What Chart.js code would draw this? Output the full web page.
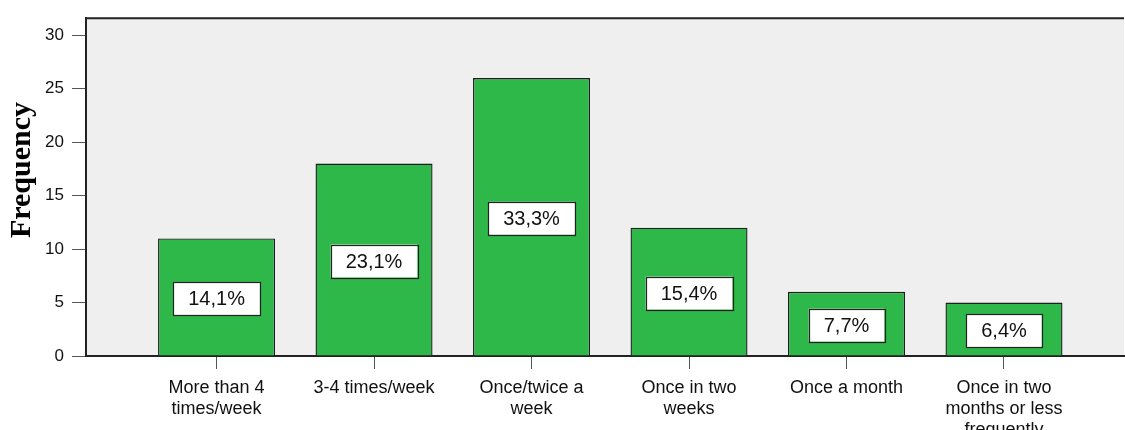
<!DOCTYPE html>
<html>
<head>
<meta charset="utf-8">
<script src="https://cdn.jsdelivr.net/npm/chart.js@4.4.1/dist/chart.umd.min.js"></script>
<style>
  html, body { margin: 0; padding: 0; background: #fff; }
  #wrap { width: 1125px; height: 430px; position: relative; }
</style>
</head>
<body>
<div id="wrap"><canvas id="chart"></canvas></div>
<script>
// Chart data
const categories = [
  ["More than 4", "times/week"],
  ["3-4 times/week"],
  ["Once/twice a", "week"],
  ["Once in two", "weeks"],
  ["Once a month"],
  ["Once in two", "months or less", "frequently"]
];
const frequencies = [11, 18, 26, 12, 6, 5];
const percentLabels = ["14,1%", "23,1%", "33,3%", "15,4%", "7,7%", "6,4%"];
const yTicks = [0, 5, 10, 15, 20, 25, 30];
const yTitle = "Frequency";

// Gray plot background and top frame line
const plotFrame = {
  id: "plotFrame",
  beforeDraw(chart) {
    const { ctx, chartArea } = chart;
    ctx.save();
    ctx.fillStyle = "#efefef";
    ctx.fillRect(chartArea.left, chartArea.top, chartArea.right - chartArea.left, chartArea.bottom - chartArea.top);
    ctx.restore();
  },
  afterDraw(chart) {
    const { ctx, chartArea } = chart;
    ctx.save();
    ctx.strokeStyle = "#222";
    ctx.lineWidth = 2;
    ctx.beginPath();
    ctx.moveTo(chartArea.left - 1, chartArea.top);
    ctx.lineTo(chartArea.right, chartArea.top);
    ctx.stroke();

    // rotated axis title
    ctx.fillStyle = "#000";
    ctx.font = "bold 30px 'Liberation Serif', 'Times New Roman', serif";
    ctx.textAlign = "center";
    ctx.textBaseline = "middle";
    ctx.translate(22, 170);
    ctx.rotate(-Math.PI / 2);
    ctx.fillText(yTitle, 0, 0);
    ctx.restore();
  }
};

// Percentage boxes in the middle of each bar
const boxLabels = {
  id: "boxLabels",
  afterDatasetsDraw(chart) {
    const { ctx } = chart;
    const bars = chart.getDatasetMeta(0).data;
    ctx.save();
    ctx.font = "20px 'Liberation Sans', Arial, sans-serif";
    ctx.textAlign = "center";
    ctx.textBaseline = "middle";
    bars.forEach((bar, i) => {
      const text = percentLabels[i];
      const w = ctx.measureText(text).width + 30;
      const h = 33;
      const cx = bar.x;
      const cy = (bar.y + bar.base) / 2 + 1.5;
      ctx.fillStyle = "#fff";
      ctx.fillRect(cx - w / 2, cy - h / 2, w, h);
      ctx.strokeStyle = "#222";
      ctx.lineWidth = 1.2;
      ctx.strokeRect(Math.round(cx - w / 2) + 0.5, Math.round(cy - h / 2) + 0.5, Math.round(w), h);
      ctx.fillStyle = "#111";
      ctx.fillText(text, cx, cy + 1);
    });
    ctx.restore();
  }
};

const ctx = document.getElementById("chart").getContext("2d");
new Chart(ctx, {
  type: "bar",
  data: {
    datasets: [{
      data: frequencies.map((v, i) => ({ x: i, y: v })),
      backgroundColor: "#2eb84a",
      borderColor: "#1e1e1e",
      borderWidth: 1.4,
      barPercentage: 0.743,
      categoryPercentage: 1
    }]
  },
  options: {
    responsive: true,
    maintainAspectRatio: false,
    animation: false,
    layout: { padding: { top: 16, right: 1, left: 0, bottom: 0 } },
    plugins: {
      legend: { display: false },
      tooltip: { enabled: false }
    },
    scales: {
      x: {
        type: "linear",
        offset: false,
        min: -0.829,
        max: 5.762,
        afterBuildTicks: (scale) => { scale.ticks = categories.map((c, i) => ({ value: i })); },
        afterFit: (scale) => { scale.height = 74; },
        grid: { offset: false, drawOnChartArea: false, tickLength: 13, color: "#555", lineWidth: 1 },
        border: { display: true, color: "#222", width: 2 },
        ticks: {
          autoSkip: false,
          maxRotation: 0,
          minRotation: 0,
          padding: 9,
          color: "#111",
          font: { family: "'Liberation Sans', Arial, sans-serif", size: 18, lineHeight: 1.15 },
          callback: (v) => categories[v]
        }
      },
      y: {
        min: 0,
        max: 31.6,
        afterBuildTicks: (scale) => { scale.ticks = yTicks.map((v) => ({ value: v })); },
        afterFit: (scale) => { scale.width = 86; },
        grid: { drawOnChartArea: false, tickLength: 14, color: "#555", lineWidth: 1 },
        border: { display: true, color: "#222", width: 2 },
        ticks: {
          padding: 8,
          color: "#111",
          font: { family: "'Liberation Sans', Arial, sans-serif", size: 17 }
        }
      }
    }
  },
  plugins: [plotFrame, boxLabels]
});
</script>
</body>
</html>
